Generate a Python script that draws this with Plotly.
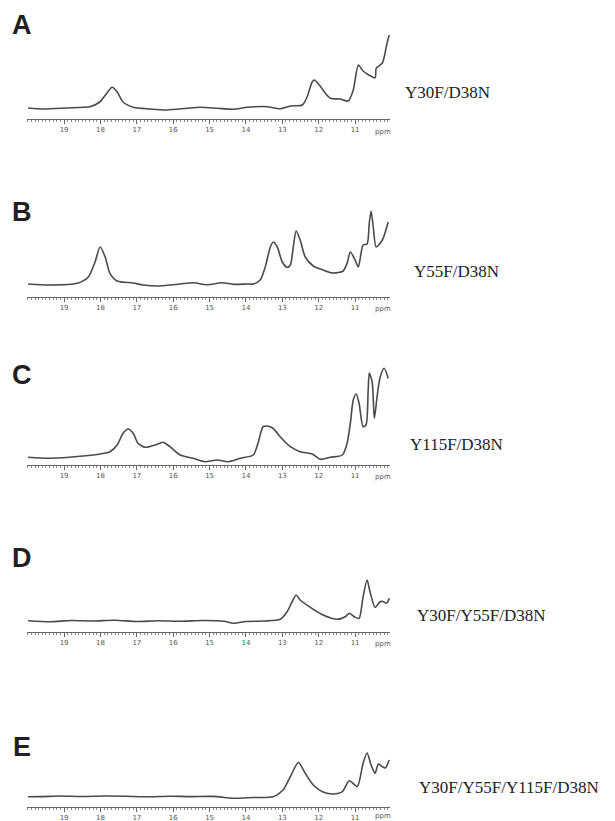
import plotly.graph_objects as go

# ---------------- data (ppm, intensity) ----------------
a_ppm = [19.99, 19.58, 18.92, 18.48, 18.29, 18.02, 17.82, 17.68, 17.54, 17.38, 17.10, 16.64,
         16.17, 15.62, 15.26, 14.79, 14.35, 13.97, 13.42, 13.06, 12.78, 12.45, 12.32, 12.18,
         12.12, 11.96, 11.82, 11.68, 11.41, 11.19, 11.05, 10.91, 10.78, 10.45, 10.42, 10.25,
         10.12, 10.06]
a_int = [11, 10, 11, 11.7, 12.3, 17, 26, 31.7, 27, 17, 11.7, 10,
         9, 10.7, 11.7, 10.7, 9.7, 11.7, 12.3, 10.3, 13, 14, 22, 37,
         39, 33, 25.7, 20.7, 20, 18, 29, 54, 48, 41.3, 50.7, 56,
         76, 84]

b_ppm = [19.99, 19.39, 18.64, 18.34, 18.15, 18.01, 17.87, 17.74, 17.54, 17.10, 16.83, 16.36,
         15.81, 15.45, 15.07, 14.66, 14.35, 13.97, 13.80, 13.61, 13.47, 13.33, 13.25, 13.14,
         13.00, 12.87, 12.78, 12.70, 12.62, 12.51, 12.37, 12.15, 11.88, 11.60, 11.33, 11.22,
         11.13, 11.00, 10.91, 10.78, 10.67, 10.61, 10.56, 10.50, 10.42, 10.25, 10.09]
b_int = [13, 12, 13.7, 19.7, 35, 50, 40, 23.7, 16, 14, 12, 11,
         13, 14.3, 12.3, 14.3, 12.7, 13, 13, 17, 30, 50, 55, 50,
         35, 29.7, 32, 50, 66, 57, 40, 31, 27, 24, 26, 33.7,
         45, 37, 30, 52, 53, 74, 86, 70, 50, 57, 75]

c_ppm = [19.99, 19.39, 18.48, 18.01, 17.74, 17.54, 17.38, 17.24, 17.10, 16.97, 16.77, 16.50,
         16.28, 16.09, 15.81, 15.45, 15.12, 14.79, 14.49, 14.16, 13.80, 13.67, 13.53, 13.42,
         13.25, 13.06, 12.78, 12.51, 12.18, 11.96, 11.68, 11.35, 11.22, 11.13, 11.05, 10.97,
         10.89, 10.78, 10.70, 10.64, 10.61, 10.53, 10.47, 10.39, 10.31, 10.20, 10.09]
c_int = [7.7, 6.7, 9, 11, 13.3, 20, 31.7, 36, 31.7, 21.7, 17.7, 20,
         22.7, 18.3, 10, 6.7, 3.3, 5, 3.3, 6.7, 10, 21.7, 38.3, 39,
         36.5, 28.3, 18.3, 13.3, 11, 5.7, 7.7, 10, 21.7, 41.7, 65, 71,
         61.7, 38.3, 40, 75, 92, 83, 46.7, 70, 88, 96.7, 86.7]

d_ppm = [19.99, 19.39, 18.80, 18.20, 17.60, 17.00, 16.40, 15.80, 15.20, 14.60, 14.35, 14.00,
         13.50, 13.06, 12.87, 12.73, 12.62, 12.51, 12.23, 11.88, 11.49, 11.27, 11.16, 11.00,
         10.89, 10.78, 10.67, 10.59, 10.45, 10.31, 10.23, 10.14, 10.06]
d_int = [11.3, 10.3, 11.5, 11, 11.8, 10.5, 11.3, 10.7, 11.5, 10.8, 8.7, 10.5,
         11, 12.7, 20.3, 30.3, 37, 32, 24.7, 17, 12.7, 15.3, 18.7, 14.7,
         13.7, 35.3, 52, 40.3, 24.7, 30.3, 30.5, 28.7, 33.7]

e_ppm = [19.99, 19.40, 19.11, 18.50, 17.90, 17.30, 16.70, 16.10, 15.50, 14.90, 14.35, 13.80,
         13.25, 12.98, 12.78, 12.56, 12.37, 12.15, 11.88, 11.60, 11.35, 11.16, 10.94, 10.78,
         10.67, 10.56, 10.45, 10.36, 10.25, 10.17, 10.06]
e_int = [10.3, 10.6, 11, 10.5, 11, 10.8, 10.2, 10.8, 10.4, 10.6, 8.7, 9.5,
         10.3, 17, 30.3, 44.5, 33.7, 22, 15, 13, 15.3, 26.3, 20.5, 43.7,
         54, 42, 33.7, 43, 40.3, 39, 47]

letters = ["A", "B", "C", "D", "E"]
labels = ["Y30F/D38N", "Y55F/D38N", "Y115F/D38N", "Y30F/Y55F/D38N", "Y30F/Y55F/Y115F/D38N"]
tick_vals = [19, 18, 17, 16, 15, 14, 13, 12, 11]
tick_text = ["19", "18", "17", "16", "15", "14", "13", "12", "11"]

series = [(a_ppm, a_int), (b_ppm, b_int), (c_ppm, c_int), (d_ppm, d_int), (e_ppm, e_int)]

# ---------------- layout / styling ----------------
W, H = 615, 821
axis_px = [119, 297, 465, 632, 807]      # axis line position of each panel (px from top)
letter_px = [25, 212, 375, 558, 747]
label_px = [92, 271, 444, 615, 787]
label_x_px = [403, 412, 408, 415, 417]
ppm_px = [132, 309, 477, 644, 816]
panel_h = 100
x_left, x_right = 27, 390
ppm_range = [20.02, 10.04]

fig = go.Figure()
layout = dict(width=W, height=H, margin=dict(l=0, r=0, t=0, b=0),
              paper_bgcolor="white", plot_bgcolor="white", showlegend=False)
annotations = []

for i, (px, iy) in enumerate(series):
    n = "" if i == 0 else str(i + 1)
    fig.add_trace(go.Scatter(
        x=px, y=iy, mode="lines",
        line=dict(color="#4a4a4a", width=1.6, shape="spline", smoothing=0.7),
        xaxis="x" + n, yaxis="y" + n, hoverinfo="skip"))
    y0 = 1 - axis_px[i] / H
    y1 = 1 - (axis_px[i] - panel_h) / H
    layout["xaxis" + n] = dict(
        domain=[x_left / W, x_right / W], range=ppm_range, anchor="y" + n,
        showline=True, linecolor="#666666", linewidth=1, showgrid=False, zeroline=False,
        tickmode="array", tickvals=tick_vals, ticktext=tick_text,
        ticks="outside", ticklen=4, tickcolor="#666666", tickwidth=1,
        tickfont=dict(size=7, color="#555555", family="DejaVu Sans"),
        minor=dict(dtick=0.1, tick0=10, ticks="outside", ticklen=2,
                   tickcolor="#888888", tickwidth=1, showgrid=False),
        fixedrange=True)
    layout["yaxis" + n] = dict(domain=[y0, y1], range=[0, panel_h], visible=False,
                               anchor="x" + n, fixedrange=True)
    annotations.append(dict(text="ppm", xref="paper", yref="paper",
                            x=383 / W, y=1 - ppm_px[i] / H,
                            xanchor="center", yanchor="middle", showarrow=False,
                            font=dict(size=7, color="#555555", family="DejaVu Sans")))
    annotations.append(dict(text="<b>" + letters[i] + "</b>", xref="paper", yref="paper",
                            x=22 / W, y=1 - letter_px[i] / H,
                            xanchor="center", yanchor="middle", showarrow=False,
                            font=dict(size=27, color="#231f20", family="Liberation Sans")))
    annotations.append(dict(text=labels[i], xref="paper", yref="paper",
                            x=label_x_px[i] / W, y=1 - label_px[i] / H,
                            xanchor="left", yanchor="middle", showarrow=False,
                            font=dict(size=17, color="#222222", family="Liberation Serif")))

layout["annotations"] = annotations
fig.update_layout(**layout)

fig.write_html("out.html",
               config={"displayModeBar": False},
               post_script="document.body.style.margin='0';document.body.style.padding='0';"
                           "document.body.style.overflow='hidden';")
